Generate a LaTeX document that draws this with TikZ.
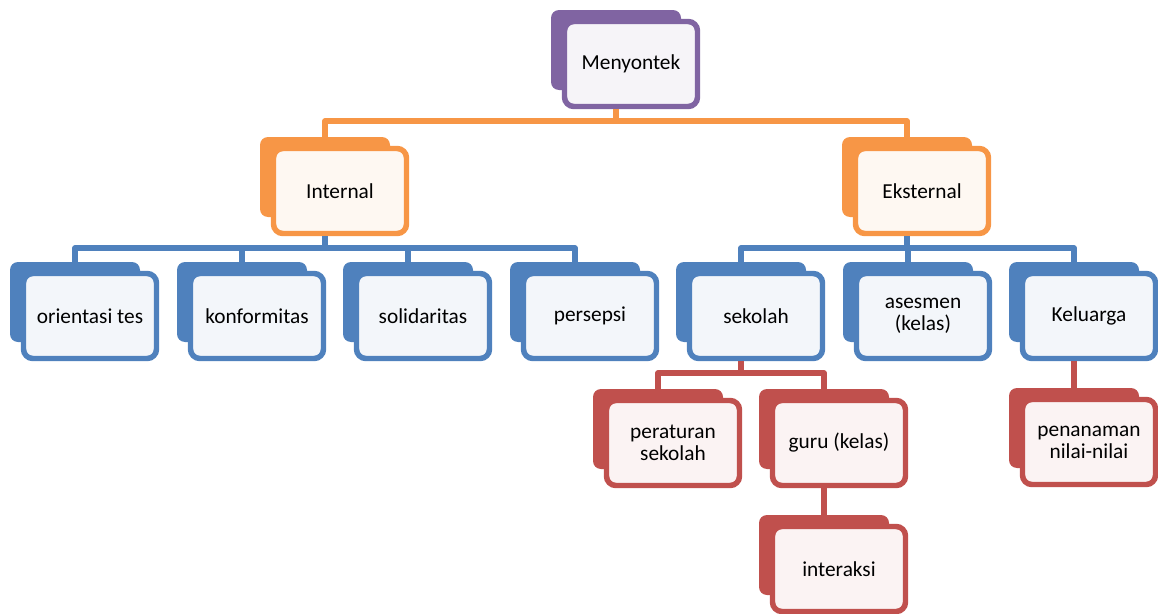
\documentclass[tikz,border=0pt]{standalone}
\usepackage{fontspec}
\setmainfont{Carlito}
\usepackage{tikz}
\usetikzlibrary{positioning,calc}
\definecolor{smartpurple}{HTML}{8064A2}
\definecolor{smartorange}{HTML}{F79646}
\definecolor{smartblue}{HTML}{4F81BD}
\definecolor{smartred}{HTML}{C0504D}

\begin{document}
\begin{tikzpicture}[x=0.75pt,y=-0.75pt,
back/.style={fill=#1,rounded corners=6pt,minimum width=97.5pt,minimum height=60pt,inner sep=0pt},
front/.style={draw=#1,fill=#1!7!white,line width=4.1pt,rounded corners=7pt,
minimum width=99.75pt,minimum height=63.75pt,inner sep=2pt,align=center,
font=\fontsize{16}{16.5}\selectfont},
conn/.style={draw=#1,line width=4.3pt,line join=round}
]
\useasboundingbox (0,0) rectangle (1158,614);
% back plates
\node[back=smartpurple] (menB) at (616,50) {};
\node[back=smartorange] (intB) at (325,177) {};
\node[back=smartorange] (extB) at (907,177) {};
\node[back=smartblue] (oriB) at (75,302) {};
\node[back=smartblue] (konB) at (242,302) {};
\node[back=smartblue] (solB) at (408,302) {};
\node[back=smartblue] (perB) at (575,302) {};
\node[back=smartblue] (sekB) at (741,302) {};
\node[back=smartblue] (aseB) at (908,302) {};
\node[back=smartblue] (kelB) at (1074,302) {};
\node[back=smartred] (ptrB) at (658,429) {};
\node[back=smartred] (guruB) at (824,429) {};
\node[back=smartred] (pnnB) at (1074,428) {};
\node[back=smartred] (intrB) at (824,555) {};
% front boxes
\node[front=smartpurple] (men) at (631,64) {Menyontek};
\node[front=smartorange] (int) at (340,191) {Internal};
\node[front=smartorange] (ext) at (922,191) {Eksternal};
\node[front=smartblue] (ori) at (90,316) {orientasi tes};
\node[front=smartblue] (kon) at (257,316) {konformitas};
\node[front=smartblue] (sol) at (423,316) {solidaritas};
\node[front=smartblue] (per) at (590,316) {persepsi};
\node[front=smartblue] (sek) at (756,316) {sekolah};
\node[front=smartblue] (ase) at (923,316) {asesmen\\(kelas)};
\node[front=smartblue] (kel) at (1089,316) {Keluarga};
\node[front=smartred] (ptr) at (673,443) {peraturan\\sekolah};
\node[front=smartred] (guru) at (839,443) {guru (kelas)};
\node[front=smartred] (pnn) at (1089,442) {penanaman\\nilai-nilai};
\node[front=smartred] (intr) at (839,569) {interaksi};
% connectors
\coordinate (obar) at (0,121);
\coordinate (bbar) at (0,248);
\coordinate (rbar) at (0,373);
\draw[conn=smartorange] (menB |- men.south) -- (menB |- obar);
\draw[conn=smartorange] (intB.north) |- (extB |- obar) -- (extB.north);
\draw[conn=smartblue] (intB |- int.south) -- (intB |- bbar);
\draw[conn=smartblue] (oriB.north) |- (perB |- bbar) -- (perB.north);
\draw[conn=smartblue] (konB.north) -- (konB |- bbar);
\draw[conn=smartblue] (solB.north) -- (solB |- bbar);
\draw[conn=smartblue] (extB |- ext.south) -- (extB |- bbar);
\draw[conn=smartblue] (sekB.north) |- (kelB |- bbar) -- (kelB.north);
\draw[conn=smartblue] (aseB.north) -- (aseB |- bbar);
\draw[conn=smartred] (sekB |- sek.south) -- (sekB |- rbar);
\draw[conn=smartred] (ptrB.north) |- (guruB |- rbar) -- (guruB.north);
\draw[conn=smartred] (guruB |- guru.south) -- (intrB.north);
\draw[conn=smartred] (kelB |- kel.south) -- (pnnB.north);
\end{tikzpicture}
\end{document}
